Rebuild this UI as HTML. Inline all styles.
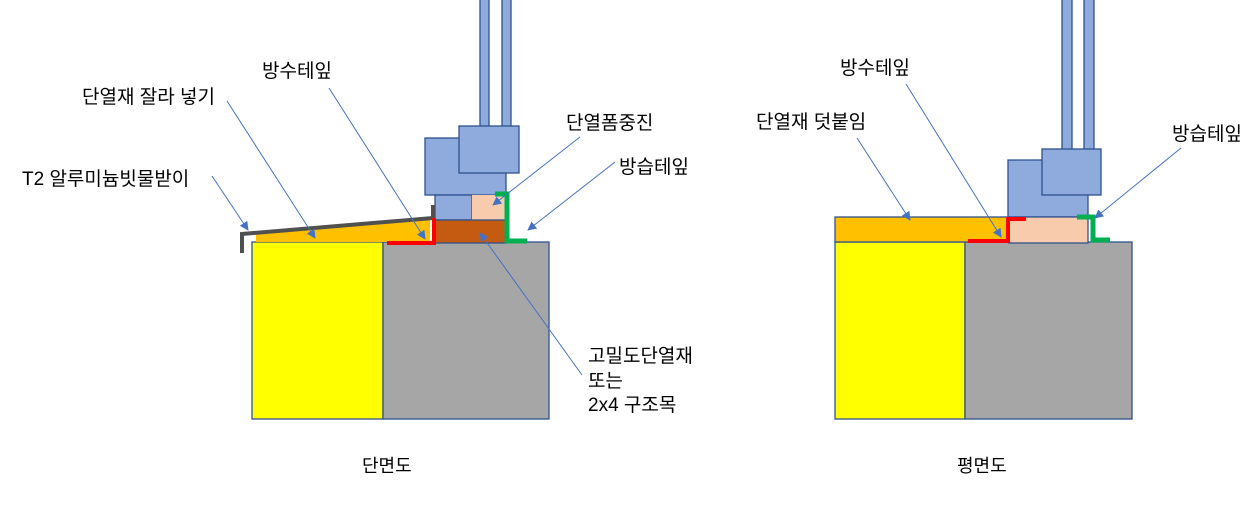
<!DOCTYPE html>
<html><head><meta charset="utf-8"><style>
html,body{margin:0;padding:0;background:#fff;}
svg{display:block;}
text{font-family:"Liberation Sans","Noto Sans CJK KR",sans-serif;font-size:19px;fill:#000;}
</style></head><body>
<svg width="1257" height="513" viewBox="0 0 1257 513" xmlns="http://www.w3.org/2000/svg">
<defs>
<marker id="a" viewBox="0 0 10 10" refX="9" refY="5" markerWidth="9" markerHeight="9" markerUnits="userSpaceOnUse" orient="auto"><path d="M0,0 L10,5 L0,10 z" fill="#4472c4"/></marker>
</defs>
<!-- LEFT -->
<g stroke="#2f528f" stroke-width="1.3">
<rect x="480" y="-2" width="9" height="129" fill="#8faadc"/>
<rect x="502" y="-2" width="9" height="129" fill="#8faadc"/>
<rect x="252" y="242" width="131" height="177" fill="#ffff00"/>
<rect x="383" y="242" width="166" height="177" fill="#a6a6a6"/>
<rect x="425" y="138" width="81" height="57" fill="#8faadc"/>
<rect x="459" y="126" width="60" height="47" fill="#8faadc"/>
<rect x="435" y="195" width="37" height="25" fill="#8faadc"/>
<rect x="472" y="195" width="34" height="25" fill="#f8cbad" stroke="none"/>
<rect x="435" y="220" width="72" height="23" fill="#c55a11"/>
</g>
<polygon points="256,234 430,219 430,242 256,242" fill="#ffc000"/>
<polyline points="242,253 242,234 433,218 433,205" fill="none" stroke="#505050" stroke-width="4"/>
<polyline points="387,243 434,243 434,218" fill="none" stroke="#ff0000" stroke-width="4"/>
<polyline points="495,194 507,194 507,241 527,241" fill="none" stroke="#00b050" stroke-width="5"/>
<!-- RIGHT -->
<g stroke="#2f528f" stroke-width="1.3">
<rect x="1062" y="-2" width="10" height="152" fill="#8faadc"/>
<rect x="1084" y="-2" width="10" height="152" fill="#8faadc"/>
<rect x="835" y="242" width="130" height="177" fill="#ffff00"/>
<rect x="965" y="242" width="167" height="177" fill="#a6a6a6"/>
<rect x="1008" y="160" width="80" height="57" fill="#8faadc"/>
<rect x="1042" y="149" width="59" height="46" fill="#8faadc"/>
<rect x="835" y="217" width="174" height="25" fill="#ffc000"/>
<rect x="1009" y="217" width="79" height="26" fill="#f8cbad"/>
</g>
<polyline points="968,241 1008,241 1008,219 1026,219" fill="none" stroke="#ff0000" stroke-width="4"/>
<polyline points="1077,217 1093,217 1093,240 1110,240" fill="none" stroke="#00b050" stroke-width="5"/>
<!-- arrows -->
<g stroke="#4472c4" stroke-width="1" fill="none" marker-end="url(#a)">
<line x1="212" y1="176" x2="248" y2="230"/>
<line x1="227" y1="101" x2="315" y2="238"/>
<line x1="329" y1="88" x2="425" y2="239"/>
<line x1="580" y1="137" x2="493" y2="205"/>
<line x1="615" y1="162" x2="528" y2="230"/>
<line x1="582" y1="375" x2="480" y2="233"/>
<line x1="906" y1="84" x2="1001" y2="237"/>
<line x1="857" y1="138" x2="910" y2="220"/>
<line x1="1181" y1="148" x2="1095" y2="218"/>
</g>
<!-- labels -->
<text x="82" y="103">단열재 잘라 넣기</text>
<text x="262" y="77">방수테잎</text>
<text x="22" y="185">T2 알루미늄빗물받이</text>
<text x="566" y="129">단열폼중진</text>
<text x="619" y="173">방습테잎</text>
<text x="588" y="362">고밀도단열재</text>
<text x="588" y="387">또는</text>
<text x="588" y="411">2x4 구조목</text>
<text x="840" y="74">방수테잎</text>
<text x="756" y="128">단열재 덧붙임</text>
<text x="1172" y="140">방습테잎</text>
<text x="362" y="472" style="font-size:18px">단면도</text>
<text x="957" y="472" style="font-size:18px">평면도</text>
</svg>
</body></html>
